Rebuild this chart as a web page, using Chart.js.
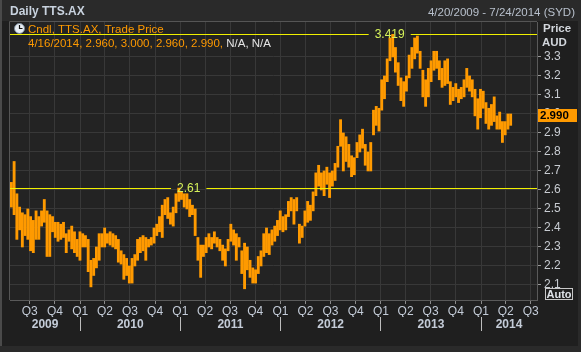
<!DOCTYPE html>
<html><head><meta charset="utf-8">
<script src="https://cdn.jsdelivr.net/npm/chart.js@4.4.1/dist/chart.umd.min.js"></script>
<style>
html,body{margin:0;padding:0;background:#1f1f1f;overflow:hidden}
canvas{display:block}
</style></head><body>
<canvas id="c" width="581" height="352"></canvas>
<script>
// ---------- data ----------
const startDate = '2009-04-20';
const endDate = '2014-07-24';
const binDays = 10; // each bar = high/low range over a 10-day period
const highs = [
2.64,2.75,2.58,2.51,2.48,2.47,2.50,2.46,2.44,2.49,2.46,2.49,2.55,2.49,2.47,2.46,2.43,2.43,2.42,2.43,
2.37,2.39,2.41,2.38,2.34,2.38,2.37,2.36,2.34,2.23,2.24,2.30,2.37,2.37,2.40,2.37,2.38,2.37,2.36,2.34,
2.28,2.26,2.24,2.20,2.24,2.26,2.34,2.35,2.36,2.35,2.34,2.35,2.40,2.42,2.46,2.52,2.55,2.56,2.48,2.51,
2.58,2.61,2.59,2.58,2.58,2.55,2.52,2.50,2.35,2.31,2.31,2.35,2.37,2.35,2.38,2.35,2.34,2.31,2.29,2.34,
2.42,2.39,2.37,2.35,2.28,2.32,2.30,2.23,2.19,2.18,2.25,2.28,2.37,2.40,2.37,2.39,2.41,2.44,2.49,2.46,
2.47,2.54,2.56,2.55,2.56,2.42,2.41,2.49,2.54,2.52,2.59,2.69,2.73,2.69,2.70,2.72,2.69,2.70,2.74,2.83,
2.97,2.90,2.88,2.84,2.78,2.77,2.85,2.89,2.92,2.84,2.80,2.85,3.02,3.04,3.03,3.18,3.20,3.29,3.40,3.419,
3.35,3.27,3.19,3.17,3.20,3.31,3.35,3.40,3.41,3.33,3.23,3.18,3.24,3.28,3.33,3.33,3.28,3.24,3.28,3.29,
3.17,3.14,3.16,3.13,3.14,3.18,3.24,3.20,3.18,3.13,3.08,3.13,3.12,3.06,3.03,3.05,3.09,2.99,3.01,2.96,
2.96,3.00,3.00
];
const lows = [
2.51,2.47,2.34,2.39,2.30,2.36,2.34,2.28,2.27,2.34,2.34,2.41,2.43,2.25,2.25,2.38,2.35,2.33,2.34,2.35,
2.27,2.33,2.29,2.27,2.25,2.23,2.30,2.30,2.17,2.09,2.15,2.19,2.23,2.30,2.30,2.32,2.31,2.30,2.29,2.22,
2.21,2.13,2.15,2.11,2.11,2.20,2.23,2.27,2.28,2.23,2.30,2.31,2.32,2.36,2.38,2.35,2.47,2.45,2.42,2.41,
2.48,2.54,2.55,2.51,2.50,2.46,2.47,2.36,2.23,2.14,2.25,2.27,2.30,2.29,2.32,2.30,2.28,2.23,2.20,2.28,
2.33,2.31,2.23,2.30,2.16,2.08,2.18,2.14,2.11,2.11,2.16,2.20,2.25,2.27,2.26,2.31,2.33,2.36,2.39,2.38,
2.39,2.46,2.49,2.42,2.49,2.32,2.35,2.41,2.43,2.44,2.49,2.57,2.62,2.60,2.57,2.63,2.56,2.62,2.65,2.72,
2.83,2.70,2.75,2.72,2.67,2.68,2.77,2.80,2.82,2.73,2.70,2.70,2.89,2.94,2.91,3.02,3.08,3.17,3.28,3.30,
3.22,3.15,3.07,3.04,3.12,3.19,3.24,3.29,3.32,3.24,3.09,3.04,3.09,3.17,3.23,3.24,3.18,3.14,3.15,3.16,
3.05,3.07,3.09,3.06,3.08,3.09,3.14,3.12,3.09,2.99,2.92,2.98,3.03,2.95,2.92,2.94,2.96,2.92,2.92,2.85,
2.89,2.92,2.94
];
const yTicks = [2.1,2.2,2.3,2.4,2.5,2.6,2.7,2.8,2.9,3.0,3.1,3.2,3.3];
const quarterDates = ['2009-07-01','2009-10-01','2010-01-01','2010-04-01','2010-07-01','2010-10-01',
 '2011-01-01','2011-04-01','2011-07-01','2011-10-01','2012-01-01','2012-04-01','2012-07-01','2012-10-01',
 '2013-01-01','2013-04-01','2013-07-01','2013-10-01','2014-01-01','2014-04-01','2014-07-01'];
const quarterLabels = ['Q3','Q4','Q1','Q2','Q3','Q4','Q1','Q2','Q3','Q4','Q1','Q2','Q3','Q4',
 'Q1','Q2','Q3','Q4','Q1','Q2','Q3'];
const yearLabels = ['2009','2010','2011','2012','2013','2014'];
const yearStartDates = ['2010-01-01','2011-01-01','2012-01-01','2013-01-01','2014-01-01'];
const refLevels = [3.419, 2.61];
const lastBar = {date:'4/16/2014', open:2.960, high:3.000, low:2.960, close:2.990};
const titleText = 'Daily TTS.AX';
const rangeText = '4/20/2009 - 7/24/2014 (SYD)';
const seriesName = 'Cndl, TTS.AX, Trade Price';

// ---------- helpers ----------
const DAY = 86400000;
const dayOf = d => Math.round((Date.parse(d) - Date.parse(startDate)) / DAY);
const endDay = dayOf(endDate);
const quarterDays = quarterDates.map(dayOf);
const yearBounds = yearStartDates.map(dayOf);
const edges = [0, ...yearBounds, endDay];
const yearTicks = [];
for (let i = 0; i < yearLabels.length; i++) {
  yearTicks.push({value: (edges[i] + edges[i + 1]) / 2, text: yearLabels[i]});
  if (i < yearBounds.length) yearTicks.push({value: yearBounds[i], text: ''});
}
const barData = highs.map((h, i) => ({x: i * binDays + binDays / 2, y: [lows[i], h]}));

const FONT = '"Liberation Sans", Arial, sans-serif';
const ORANGE = '#ff9a00';
const LABEL = '#c4ccd8';
const GRID = '#383838';

const decor = {
  id: 'decor',
  beforeDraw(chart) {
    const {ctx, chartArea: a} = chart;
    ctx.save();
    ctx.fillStyle = '#1f1f1f';
    ctx.fillRect(0, 0, chart.width, chart.height);
    ctx.fillStyle = '#2a2a2a';
    ctx.fillRect(0, 0, chart.width, 21);
    ctx.fillRect(0, 346, chart.width, chart.height - 346);
    ctx.fillStyle = '#4a4a4a';
    ctx.fillRect(0, 0, 2, 346);
    ctx.fillStyle = '#2a2a2a';
    ctx.fillRect(578, 0, 3, chart.height);
    ctx.fillStyle = '#232323';
    ctx.fillRect(a.left, a.top, a.right - a.left, a.bottom - a.top);
    ctx.restore();
  },
  afterDatasetsDraw(chart) {
    const {ctx, chartArea: a, scales: {x, y}} = chart;
    ctx.save();
    // reference high lines
    const offs = [-3, 10];
    ctx.font = '12px ' + FONT;
    ctx.textBaseline = 'middle';
    ctx.textAlign = 'center';
    refLevels.forEach((lvl, i) => {
      const py = Math.round(y.getPixelForValue(lvl)) + 0.5;
      const idx = highs.indexOf(lvl);
      const cx = x.getPixelForValue(barData[idx].x) + offs[i];
      const t = lvl.toString();
      const w = ctx.measureText(t).width;
      ctx.strokeStyle = '#f0f000';
      ctx.lineWidth = 1;
      ctx.beginPath();
      ctx.moveTo(a.left, py); ctx.lineTo(cx - w / 2 - 6, py);
      ctx.moveTo(cx + w / 2 + 6, py); ctx.lineTo(a.right, py);
      ctx.stroke();
      ctx.fillStyle = '#d6f25a';
      ctx.fillText(t, cx, py);
    });
    // legend text
    ctx.font = '11.5px ' + FONT;
    ctx.textAlign = 'left';
    ctx.fillStyle = ORANGE;
    ctx.fillText(seriesName, a.left + 18, 30);
    const vals = [lastBar.open, lastBar.high, lastBar.low, lastBar.close].map(v => v.toFixed(3));
    const line2 = lastBar.date + ', ' + vals.join(', ') + ', ';
    ctx.fillText(line2, a.left + 18, 44);
    const w2 = ctx.measureText(line2).width;
    ctx.fillStyle = '#e4e4e4';
    ctx.fillText('N/A, N/A', a.left + 18 + w2, 44);
    // clock icon
    ctx.beginPath(); ctx.arc(19.5, 28.5, 5, 0, Math.PI * 2);
    ctx.fillStyle = '#e8eef4'; ctx.fill();
    ctx.strokeStyle = '#7a8a9a'; ctx.stroke();
    ctx.beginPath(); ctx.moveTo(19.5, 25); ctx.lineTo(19.5, 28.5); ctx.lineTo(22.5, 28.5);
    ctx.strokeStyle = '#111'; ctx.lineWidth = 1.2; ctx.stroke();
    ctx.restore();
  },
  afterDraw(chart) {
    const {ctx, chartArea: a, scales: {y}} = chart;
    ctx.save();
    // plot frame top/left
    ctx.strokeStyle = '#555';
    ctx.lineWidth = 1;
    ctx.beginPath();
    ctx.moveTo(a.left - 0.5, a.bottom); ctx.lineTo(a.left - 0.5, a.top - 0.5); ctx.lineTo(a.right, a.top - 0.5);
    ctx.stroke();
    // titles
    ctx.textBaseline = 'middle';
    ctx.font = 'bold 12px ' + FONT;
    ctx.fillStyle = '#c8d2de';
    ctx.textAlign = 'left';
    ctx.fillText(titleText, 10, 12);
    ctx.font = '11.5px ' + FONT;
    ctx.fillStyle = '#b8c0cc';
    ctx.textAlign = 'right';
    ctx.fillText(rangeText, 575, 13);
    // axis header
    ctx.font = 'bold 11.5px ' + FONT;
    ctx.fillStyle = '#d2d6dc';
    ctx.textAlign = 'left';
    ctx.fillText('Price', 543, 28.5);
    ctx.fillText('AUD', 542, 43);
    // last price tag
    const py = y.getPixelForValue(lastBar.close);
    ctx.fillStyle = ORANGE;
    ctx.fillRect(a.right + 1, Math.round(py) - 7, 39, 13);
    ctx.fillStyle = '#000';
    ctx.font = 'bold 11.5px ' + FONT;
    ctx.fillText(lastBar.close.toFixed(3), a.right + 3, Math.round(py) - 0.5);
    // Auto box
    ctx.strokeStyle = '#c8c8c8';
    ctx.strokeRect(545.5, 288.5, 27, 11);
    ctx.fillStyle = '#dfe3e8';
    ctx.font = 'bold 11px ' + FONT;
    ctx.fillText('Auto', 546.5, 294.5);
    ctx.restore();
  }
};

new Chart(document.getElementById('c'), {
  type: 'bar',
  data: {datasets: [{label: seriesName, data: barData, backgroundColor: ORANGE,
    borderWidth: 0, barThickness: 2.2, grouped: false}]},
  options: {
    responsive: false, animation: false, devicePixelRatio: 1,
    layout: {padding: {left: 10, top: 22, right: 0, bottom: 19}},
    plugins: {legend: {display: false}, tooltip: {enabled: false}},
    scales: {
      x: {
        type: 'linear', position: 'bottom', min: 0, max: endDay, offset: false,
        afterBuildTicks: s => { s.ticks = quarterDays.map(v => ({value: v})); },
        afterFit: s => { s.height = 17; },
        ticks: {autoSkip: false, maxRotation: 0, padding: 0, color: LABEL,
          font: {family: FONT, size: 12}, callback: (v, i) => quarterLabels[i]},
        grid: {color: GRID, tickColor: '#8a8a8a', tickLength: 4, offset: false},
        border: {color: '#5a5a5a'}
      },
      xYear: {
        type: 'linear', position: 'bottom', min: 0, max: endDay, offset: false,
        afterBuildTicks: s => { s.ticks = yearTicks.map(t => ({value: t.value})); },
        afterFit: s => { s.height = 16; },
        ticks: {autoSkip: false, maxRotation: 0, padding: -14, color: LABEL,
          font: {family: FONT, size: 12, weight: 'bold'}, callback: (v, i) => yearTicks[i].text},
        grid: {drawOnChartArea: false, tickLength: 14, offset: false,
          color: c => (c.tick && yearBounds.includes(c.tick.value)) ? '#bdbdbd' : 'rgba(0,0,0,0)'},
        border: {display: false}
      },
      y: {
        type: 'linear', position: 'right', min: 2.021, max: 3.484,
        afterBuildTicks: s => { s.ticks = yTicks.map(v => ({value: v})); },
        afterFit: s => { s.width = 44; },
        ticks: {padding: 3, color: '#c8ccd2', font: {family: FONT, size: 12},
          callback: v => v.toFixed(1)},
        grid: {color: GRID, tickColor: '#9a9a9a', tickLength: 4},
        border: {color: '#5a5a5a'}
      }
    }
  },
  plugins: [decor]
});
</script>
</body></html>
